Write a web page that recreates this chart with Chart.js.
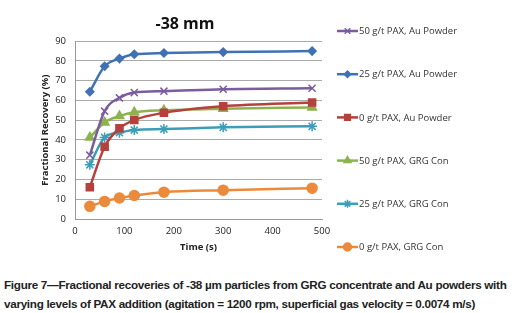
<!DOCTYPE html>
<html>
<head>
<meta charset="utf-8">
<script src="https://cdn.jsdelivr.net/npm/chart.js@4"></script>
<style>
  html, body { margin: 0; padding: 0; background: #fff; }
  #wrap { position: relative; width: 512px; height: 265px; }
  #caption {
    font-family: "Liberation Sans", Arial, sans-serif;
    font-weight: bold;
    font-size: 11.7px;
    letter-spacing: -0.3px;
    color: #222;
    line-height: 19px;
    margin: 10px 0 0 4px;
    white-space: nowrap;
  }
</style>
</head>
<body>
<div id="wrap"><canvas id="chart" width="512" height="265"></canvas></div>
<div id="caption">Figure 7—Fractional recoveries of -38 µm particles from GRG concentrate and Au powders with<br>varying levels of PAX addition (agitation = 1200 rpm, superficial gas velocity = 0.0074 m/s)</div>
<script>
const times = [30, 60, 90, 120, 180, 300, 480];

const pax50Au = [32.3, 54.6, 61.3, 64, 64.7, 65.7, 66.2];
const pax25Au = [64.4, 77.3, 81.2, 83.4, 84, 84.5, 85];
const pax0Au = [16.1, 36.6, 45.9, 50.1, 53.8, 57.1, 59];
const pax50Grg = [41.3, 48.9, 52.1, 54, 55, 55.8, 56.5];
const pax25Grg = [27.4, 41.3, 43.7, 45, 45.5, 46.4, 46.9];
const pax0Grg = [6.4, 8.9, 10.6, 11.9, 13.6, 14.6, 15.6];

const seriesNames = [
    '50 g/t PAX, Au Powder',
    '25 g/t PAX, Au Powder',
    '0 g/t PAX, Au Powder',
    '50 g/t PAX, GRG Con',
    '25 g/t PAX, GRG Con',
    '0 g/t PAX, GRG Con'
];
const seriesValues = [pax50Au, pax25Au, pax0Au, pax50Grg, pax25Grg, pax0Grg];
const seriesColors = ['#7B5C9E', '#3F72B3', '#B5403C', '#8DB34E', '#3C9DB8', '#EC8A3C'];
const seriesMarkers = ['crossRot', 'rectRot', 'rect', 'triangle', 'star', 'circle'];
const markerSizes = [5, 4, 5, 5, 5, 5];

const font = "'Open Sans', 'Liberation Sans', sans-serif";

// excel-like legend: line with marker in the middle
const sideLegend = {
    id: 'sideLegend',
    afterDraw(chart) {
        const ctx = chart.ctx;
        const x0 = 337, x1 = 358;
        chart.data.datasets.forEach((ds, i) => {
            const y = 31 + i * 43.2;
            ctx.save();
            ctx.strokeStyle = ds.borderColor;
            ctx.fillStyle = ds.borderColor;
            ctx.lineWidth = 2.5;
            ctx.beginPath();
            ctx.moveTo(x0, y);
            ctx.lineTo(x1, y);
            ctx.stroke();
            ctx.lineWidth = 1.5;
            Chart.helpers.drawPoint(ctx, {
                pointStyle: ds.pointStyle,
                radius: ds.pointRadius * 0.8,
                borderWidth: 1.5
            }, (x0 + x1) / 2, y);
            ctx.restore();
            ctx.save();
            ctx.fillStyle = '#333';
            ctx.font = '9.5px ' + font;
            ctx.textBaseline = 'middle';
            ctx.fillText(ds.label, x1 + 1, y + 0.5);
            ctx.restore();
        });
    }
};

const yTitle = {
    id: 'yTitle',
    afterDraw(chart) {
        const ctx = chart.ctx;
        const a = chart.chartArea;
        ctx.save();
        ctx.translate(45, (a.top + a.bottom) / 2);
        ctx.rotate(-Math.PI / 2);
        ctx.fillStyle = '#222';
        ctx.font = 'bold 9.5px ' + font;
        ctx.textAlign = 'center';
        ctx.textBaseline = 'middle';
        ctx.fillText('Fractional Recovery (%)', 0, 0);
        ctx.restore();
    }
};

const datasets = seriesNames.map((name, i) => ({
    label: name,
    data: times.map((t, j) => ({ x: t, y: seriesValues[i][j] })),
    borderColor: seriesColors[i],
    backgroundColor: seriesColors[i],
    pointBackgroundColor: seriesColors[i],
    pointBorderColor: seriesColors[i],
    pointStyle: seriesMarkers[i],
    pointRadius: markerSizes[i],
    pointBorderWidth: 1.5,
    borderWidth: 2.5,
    cubicInterpolationMode: 'monotone',
    fill: false
}));

new Chart(document.getElementById('chart'), {
    type: 'line',
    data: { datasets: datasets },
    options: {
        responsive: false,
        animation: false,
        layout: { padding: { left: 48, right: 190, top: 0, bottom: 12 } },
        scales: {
            x: {
                type: 'linear',
                min: 0,
                max: 500,
                afterFit: s => { s.height = 34; },
                ticks: { stepSize: 100, maxRotation: 0, color: '#222', font: { family: font, size: 9.5 }, padding: 7 },
                grid: { display: false, drawTicks: false },
                border: { color: '#999', width: 1 },
                title: { display: true, text: 'Time (s)', color: '#222', font: { family: font, size: 9.5, weight: 'bold' }, padding: { top: 3, bottom: 0 } }
            },
            y: {
                min: 0,
                max: 90,
                afterFit: s => { s.width = 27; },
                ticks: { stepSize: 10, color: '#222', font: { family: font, size: 9.5 }, padding: 9 },
                grid: { color: '#aaa', lineWidth: 1, drawTicks: false },
                border: { color: '#999', width: 1 }
            }
        },
        plugins: {
            legend: { display: false },
            tooltip: { enabled: false },
            title: {
                display: true,
                text: '-38 mm',
                color: '#111',
                font: { family: font, size: 16, weight: 'bold' },
                padding: { top: 15, bottom: 7 }
            }
        }
    },
    plugins: [sideLegend, yTitle]
});
</script>
</body>
</html>
